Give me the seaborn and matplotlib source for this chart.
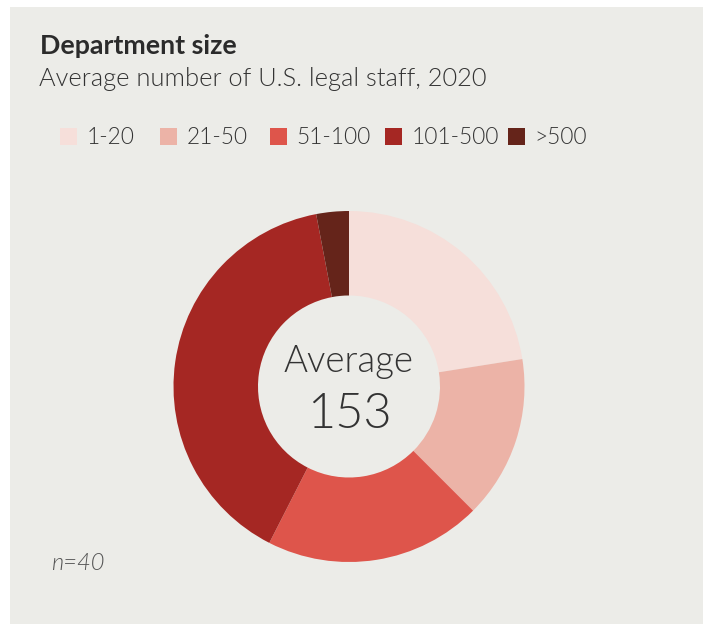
import matplotlib
matplotlib.use("Agg")
import matplotlib.pyplot as plt
from matplotlib.patches import Rectangle
import seaborn as sns

# Department size distribution (share of respondents, %)
categories = ["1-20", "21-50", "51-100", "101-500", ">500"]
shares = [22.5, 15.0, 20.0, 39.5, 3.0]
colors = ["#F6DFDA", "#ECB3A7", "#DE554B", "#A52723", "#65241A"]
average_staff = 153
sample_size = 40

sns.set_theme(style="white")
plt.rcParams["font.family"] = ["Lato", "DejaVu Sans"]

W, H = 709, 624
fig = plt.figure(figsize=(W / 100, H / 100), dpi=100)
fig.patch.set_facecolor("white")

def fx(px):
    return px / W

def fy(py):
    return 1 - py / H

# Grey card behind the chart
fig.add_artist(Rectangle((fx(10), 0), fx(703) - fx(10), fy(7), transform=fig.transFigure,
                         facecolor="#ECECE8", edgecolor="none", zorder=0))

text_dark = "#2B2B2B"
fig.text(fx(40), fy(54), "Department size", fontsize=19.3, fontweight=700,
         color=text_dark, va="baseline", ha="left")
fig.text(fx(39), fy(86), "Average number of U.S. legal staff, 2020", fontsize=18.3,
         fontweight=300, color="#333333", va="baseline", ha="left")

# Legend row
legend_x = [60, 160, 270, 385, 508]
for cat, col, lx in zip(categories, colors, legend_x):
    fig.add_artist(Rectangle((fx(lx), fy(144.5)), fx(16.5), 16.5 / H, transform=fig.transFigure,
                             facecolor=col, edgecolor="none"))
    fig.text(fx(lx + 26.5), fy(144.5), cat, fontsize=16.3, fontweight=300,
             color="#333333", va="baseline", ha="left")

# Donut
cx, cy, r_out, r_in = 349, 386.5, 175.5, 91
half = 200
ax = fig.add_axes([fx(cx - half), fy(cy + half), 2 * half / W, 2 * half / H])
ax.set_facecolor("none")
ax.pie(shares, colors=colors, startangle=90, counterclock=False, radius=1,
       wedgeprops=dict(width=1 - r_in / r_out, edgecolor="none", linewidth=0))
lim = half / r_out
ax.set_xlim(-lim, lim)
ax.set_ylim(-lim, lim)
ax.set_aspect("equal")
ax.axis("off")

fig.text(fx(cx), fy(371.7), "Average", fontsize=26.4, fontweight=300, color="#333333",
         ha="center", va="baseline")
fig.text(fx(cx), fy(428.3), f"{average_staff}", fontsize=35, fontweight=300,
         color="#333333", ha="center", va="baseline")

fig.text(fx(51), fy(570), f"n={sample_size}", fontsize=17, fontstyle="italic",
         fontweight=300, color="#555555", ha="left", va="baseline")

fig.savefig("out.png", dpi=100, facecolor=fig.get_facecolor())
